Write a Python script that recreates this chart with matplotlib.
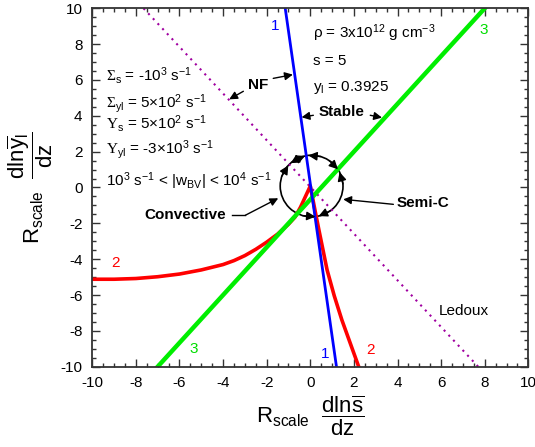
import numpy as np
import matplotlib
matplotlib.use('Agg')
import matplotlib.pyplot as plt
from matplotlib.patches import Ellipse

plt.rcParams['font.family'] = ['Liberation Sans', 'DejaVu Sans']
plt.rcParams['mathtext.fontset'] = 'custom'
plt.rcParams['mathtext.rm'] = 'Liberation Sans'
plt.rcParams['mathtext.it'] = 'Liberation Sans:italic'
plt.rcParams['mathtext.bf'] = 'Liberation Sans:bold'
plt.rcParams['mathtext.sf'] = 'Liberation Serif'
plt.rcParams['axes.unicode_minus'] = False

# curve 1 (blue), curve 3 (green), Ledoux line (dotted)
blue_x = [-1.15, 1.2]
blue_y = [10, -10]
green_x = [-7.0, 8.0]
green_y = [-10, 10]
ledoux_x = [-7.65, 7.7]
ledoux_y = [10, -10]

# curve 2 (red)
red_x = [-10, -9, -8, -7, -6, -5, -4, -3.5, -3, -2.5, -2, -1.5, -1.0, -0.7, -0.45, 0.0,
         0.22, 0.4, 0.77, 1.1, 1.45, 1.85, 2.22]
red_y = [-5.12, -5.12, -5.08, -4.98, -4.83, -4.6, -4.3, -4.08, -3.8, -3.45, -3.05, -2.6,
         -2.05, -1.65, -1.1, 0.08, -1.3, -2.4, -4.6, -6.05, -7.4, -8.75, -10.0]

# circle and where the arcs meet (degrees)
circ_c = (0.06, 0.08)
circ_rx, circ_ry = 1.44, 1.72
arc_bounds = [135, 99, 30, -80]

fig = plt.figure(figsize=(5.35, 4.47), dpi=100)
ax = fig.add_axes([0.1725, 0.1797, 0.815, 0.8017])

ax.plot(ledoux_x, ledoux_y, color='#a000a0', lw=1.5, ls=(0, (1, 2.3)))
ax.plot(red_x, red_y, color='#ff0000', lw=2.6, solid_joinstyle='round')
ax.plot(green_x, green_y, color='#00ee00', lw=3.2)
ax.plot(blue_x, blue_y, color='#0000ff', lw=2.0)

ax.add_patch(Ellipse(circ_c, 2 * circ_rx, 2 * circ_ry, fill=False, color='k', lw=1.2))


def on_circ(deg):
    t = np.radians(deg)
    return (circ_c[0] + circ_rx * np.cos(t), circ_c[1] + circ_ry * np.sin(t))


aprops = dict(arrowstyle='-|>', color='k', lw=1.0, shrinkA=0, shrinkB=0, mutation_scale=13)
for b in arc_bounds:
    for s in (1, -1):
        ax.annotate('', xy=on_circ(b + s * 3), xytext=on_circ(b + s * 26), arrowprops=aprops)

# curve labels
ax.text(-1.61, 9.0, '1', color='#0000ff', fontsize=11, ha='center', va='center')
ax.text(0.66, -9.27, '1', color='#0000ff', fontsize=11, ha='center', va='center')
ax.text(7.95, 8.77, '3', color='#00dd00', fontsize=11, ha='center', va='center')
ax.text(-5.35, -8.99, '3', color='#00dd00', fontsize=11, ha='center', va='center')
ax.text(-8.94, -4.21, '2', color='#ff0000', fontsize=11, ha='center', va='center')
ax.text(2.75, -9.08, '2', color='#ff0000', fontsize=11, ha='center', va='center')
ax.text(5.89, -6.89, 'Ledoux', fontsize=11, ha='left', va='center')

# parameters
ax.text(0.14, 8.34, 'ρ = 3x10$^{12}$ g cm$^{-3}$', fontsize=11, ha='left', va='baseline')
ax.text(0.14, 6.82, 's = 5', fontsize=11, ha='left', va='baseline')
ax.text(0.14, 5.38, r'y$_\mathrm{l}$ = 0.3925', fontsize=11, ha='left', va='baseline')

ax.text(-9.36, 5.94, r'$\mathsf{\Sigma}_\mathrm{s}$ = -10$^3$ s$^{-1}$', fontsize=11, va='baseline')
ax.text(-9.36, 4.48, r'$\mathsf{\Sigma}_\mathrm{yl}$ = 5$\times$10$^2$ s$^{-1}$', fontsize=11, va='baseline')
ax.text(-9.36, 3.30, r'$\mathsf{Y}_\mathrm{s}$ = 5$\times$10$^2$ s$^{-1}$', fontsize=11, va='baseline')
ax.text(-9.36, 1.91, r'$\mathsf{Y}_\mathrm{yl}$ = -3$\times$10$^3$ s$^{-1}$', fontsize=11, va='baseline')
ax.text(-9.36, 0.07, r'10$^3$ s$^{-1}$ < |w$_\mathrm{BV}$| < 10$^4$ s$^{-1}$', fontsize=11, va='baseline')

# pointers
ptr = dict(arrowstyle='-|>', color='k', lw=1.0, shrinkA=0, shrinkB=0, mutation_scale=12)
ax.text(-2.84, 5.70, 'NF', fontsize=11, fontweight='bold', ha='left', va='center')
ax.annotate('', xy=(-3.72, 4.92), xytext=(-3.07, 5.37), arrowprops=ptr)
ax.annotate('', xy=(-0.8, 6.3), xytext=(-1.70, 6.09), arrowprops=ptr)

ax.text(1.42, 4.20, 'Stable', fontsize=11, fontweight='bold', ha='center', va='center')
ax.annotate('', xy=(-0.40, 3.92), xytext=(0.14, 4.03), arrowprops=ptr)
ax.annotate('', xy=(3.29, 3.90), xytext=(2.75, 4.03), arrowprops=ptr)

ax.text(3.98, -0.88, 'Semi-C', fontsize=11, fontweight='bold', ha='left', va='center')
ax.annotate('', xy=(1.51, -0.66), xytext=(3.81, -0.94), arrowprops=ptr)

ax.text(-3.85, -1.55, 'Convective', fontsize=11, fontweight='bold', ha='right', va='center')
ax.plot([-3.6, -2.98], [-1.55, -1.55], color='k', lw=1.0)
ax.annotate('', xy=(-1.47, -0.60), xytext=(-2.98, -1.55), arrowprops=ptr)

ax.set_xlim(-10, 10)
ax.set_ylim(-10, 10)
ax.set_xticks(np.arange(-10, 11, 2))
ax.set_yticks(np.arange(-10, 11, 2))
ax.set_xticks(np.arange(-10, 10.1, 0.5), minor=True)
ax.set_yticks(np.arange(-10, 10.1, 0.5), minor=True)
ax.tick_params(which='both', direction='in', top=True, right=True, labelsize=11, width=1.0, color='#333333')
ax.tick_params(which='major', length=6, pad=7)
ax.tick_params(which='minor', length=3)
for sp in ax.spines.values():
    sp.set_linewidth(1.3)
    sp.set_color('#333333')

ax.set_xlabel(r'$\mathrm{R_{scale}}\ \ \dfrac{\mathrm{dln}\overline{\mathrm{s}}}{\mathrm{dz}}$', fontsize=16, labelpad=2)
ax.set_ylabel(r'$\mathrm{R_{scale}}\ \ \dfrac{\mathrm{dln}\overline{\mathrm{y}}_\mathrm{l}}{\mathrm{dz}}$', fontsize=16, labelpad=4)

fig.savefig('out.png', dpi=100)
